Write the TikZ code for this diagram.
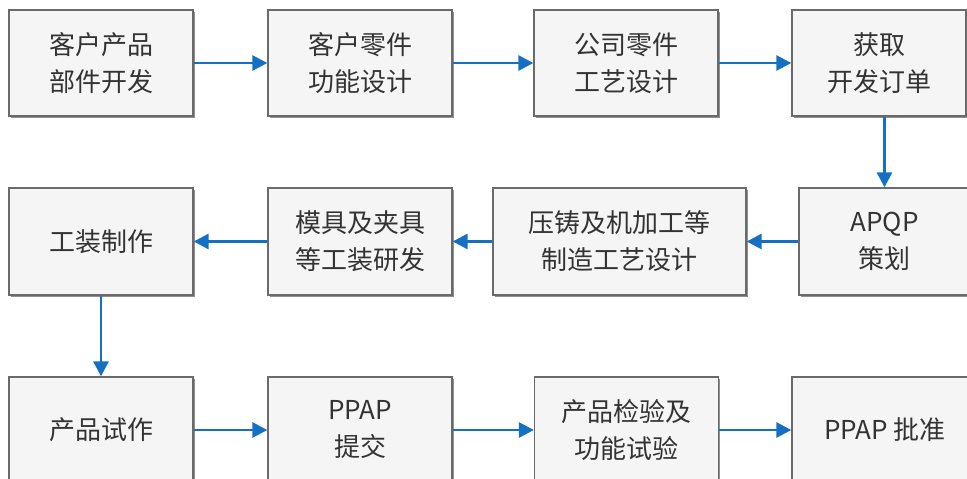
\documentclass[tikz,border=0pt]{standalone}
\usepackage{fontspec}
\setmainfont{Noto Sans CJK SC}
\usetikzlibrary{arrows.meta,shadows}
\definecolor{arrowblue}{HTML}{1570C4}
\definecolor{boxfill}{HTML}{F5F5F5}
\definecolor{boxline}{HTML}{6A6A6A}
\tikzset{
  stepbox/.style={draw=boxline, line width=1.3pt, fill=boxfill, inner sep=0pt,
    align=center, text=black!80, font=\fontsize{26}{37}\selectfont,
    drop shadow={shadow xshift=1.5pt, shadow yshift=-1.5pt, fill=black!55, opacity=0.8}},
  flow/.style={draw=arrowblue, line width=2.8pt, -{Triangle[length=15pt,width=15pt]}}
}
\begin{document}
\begin{tikzpicture}[x=1pt,y=-1pt]
\useasboundingbox (0,0) rectangle (967,479);
\clip (0,0) rectangle (967,479);
% row 1
\node[stepbox, minimum width=184pt, minimum height=106pt] (a1) at (101,63) {客户产品\\部件开发};
\node[stepbox, minimum width=184pt, minimum height=106pt] (a2) at (360,63) {客户零件\\功能设计};
\node[stepbox, minimum width=184pt, minimum height=106pt] (a3) at (626,63) {公司零件\\工艺设计};
\node[stepbox, minimum width=174pt, minimum height=106pt] (a4) at (879,63) {获取\\开发订单};
% row 2
\node[stepbox, minimum width=184pt, minimum height=107pt] (b1) at (101,241.5) {工装制作};
\node[stepbox, minimum width=184pt, minimum height=107pt] (b2) at (360,241.5) {模具及夹具\\等工装研发};
\node[stepbox, minimum width=253pt, minimum height=107pt] (b3) at (619.5,241.5) {压铸及机加工等\\制造工艺设计};
\node[stepbox, minimum width=171pt, minimum height=107pt] (b4) at (884.5,241.5) {APQP\\策划};
% row 3
\node[stepbox, minimum width=184pt, minimum height=106pt] (c1) at (101,430) {产品试作};
\node[stepbox, minimum width=184pt, minimum height=106pt] (c2) at (360,430) {PPAP\\提交};
\node[stepbox, minimum width=184pt, minimum height=106pt] (c3) at (626.5,430) {产品检验及\\功能试验};
\node[stepbox, minimum width=186pt, minimum height=106pt] (c4) at (885,430) {PPAP 批准};
% connectors
\draw[flow] (a1) -- (a2);
\draw[flow] (a2) -- (a3);
\draw[flow] (a3) -- (a4);
\draw[flow] (a4.south -| b4.north) -- (b4.north);
\draw[flow] (b4) -- (b3);
\draw[flow] (b3) -- (b2);
\draw[flow] (b2) -- (b1);
\draw[flow] (b1) -- (c1);
\draw[flow] (c1) -- (c2);
\draw[flow] (c2) -- (c3);
\draw[flow] (c3) -- (c4);
\end{tikzpicture}
\end{document}
